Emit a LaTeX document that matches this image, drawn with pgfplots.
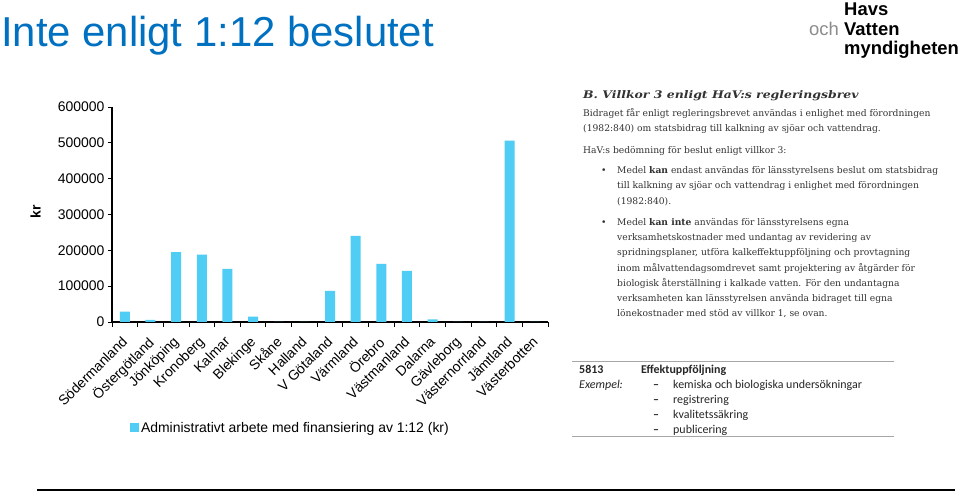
\documentclass[border=0pt]{standalone}
\usepackage{fontspec}
\setmainfont{Liberation Sans}
\newfontfamily\docserif{DejaVu Serif}
\newfontfamily\calib{Carlito}
\usepackage{pgfplots}
\pgfplotsset{compat=1.18}
\definecolor{barblue}{RGB}{80,205,245}
\definecolor{titleblue}{RGB}{0,112,192}
\definecolor{doctext}{RGB}{50,50,50}
\definecolor{logogray}{RGB}{140,140,140}
\newcommand{\dl}[3]{\node[anchor=base west,inner sep=0pt,text=doctext,font=\docserif\fontsize{9.2}{11}\selectfont] at (#1,493-#2) {#3};}
\newcommand{\tl}[3]{\node[anchor=base west,inner sep=0pt,text=black!85,font=\calib\fontsize{12}{14}\selectfont] at (#1,493-#2) {#3};}
\begin{document}
\begin{tikzpicture}[x=1bp,y=1bp]
\path[use as bounding box, fill=white] (0,0) rectangle (959,493);
% title
\node[anchor=base west, inner sep=0pt, text=titleblue, font=\fontsize{42}{50}\selectfont] at (1,446) {Inte enligt 1:12 beslutet};
% logo
\node[anchor=base west, inner sep=0pt, font=\fontsize{18.5}{20}\selectfont\bfseries] at (844,477) {Havs};
\node[anchor=base west, inner sep=0pt, font=\fontsize{18.5}{20}\selectfont\bfseries] at (844,457) {Vatten};
\node[anchor=base east, inner sep=0pt, text=logogray, font=\fontsize{18.5}{20}\selectfont] at (839,457) {och};
\node[anchor=base west, inner sep=0pt, font=\fontsize{18.5}{20}\selectfont\bfseries] at (844,438) {myndigheten};
% document excerpt
\node[anchor=base west,inner sep=0pt,text=doctext,font=\docserif\fontsize{10.5}{12}\selectfont] at (583,493-99) {\scalebox{1.19}[1]{\textbf{\textit{B. Villkor 3 enligt HaV:s regleringsbrev}}}};
\dl{583}{117}{Bidraget får enligt regleringsbrevet användas i enlighet med förordningen}
\dl{583}{132}{(1982:840) om statsbidrag till kalkning av sjöar och vattendrag.}
\dl{583}{154}{HaV:s bedömning för beslut enligt villkor 3:}
\dl{601}{174}{•}
\dl{617}{174}{Medel \textbf{kan} endast användas för länsstyrelsens beslut om statsbidrag}
\dl{617}{189}{till kalkning av sjöar och vattendrag i enlighet med förordningen}
\dl{617}{205}{(1982:840).}
\dl{601}{226}{•}
\dl{617}{226}{Medel \textbf{kan inte} användas för länsstyrelsens egna}
\dl{617}{241}{verksamhetskostnader med undantag av revidering av}
\dl{617}{256}{spridningsplaner, utföra kalkeffektuppföljning och provtagning}
\dl{617}{272}{inom målvattendagsomdrevet samt projektering av åtgärder för}
\dl{617}{287}{biologisk återställning i kalkade vatten. För den undantagna}
\dl{617}{302}{verksamheten kan länsstyrelsen använda bidraget till egna}
\dl{617}{317}{lönekostnader med stöd av villkor 1, se ovan.}
% table excerpt
\draw[black!35, line width=1bp] (572,131) -- (894,131);
\draw[black!35, line width=1bp] (572,56) -- (894,56);
\tl{579}{374}{\textbf{5813}}
\tl{641}{374}{\textbf{Effektuppföljning}}
\tl{579}{389}{\textit{Exempel:}}
\tl{653}{389}{\textbf{–}}
\tl{673}{389}{kemiska och biologiska undersökningar}
\tl{653}{404}{\textbf{–}}
\tl{673}{404}{registrering}
\tl{653}{419}{\textbf{–}}
\tl{673}{419}{kvalitetssäkring}
\tl{653}{434}{\textbf{–}}
\tl{673}{434}{publicering}
% bottom rule
\draw[black, line width=2bp] (37bp,3bp) -- (955bp,3bp);
\begin{axis}[
  at={(112bp,171bp)}, anchor=south west, scale only axis,
  width=436bp, height=215bp,
  xmin=-0.5, xmax=16.5, ymin=0, ymax=600000,
  axis lines=left, axis line style={-, line width=1.3bp, black},
  tick align=outside, major tick length=4bp, minor tick length=5bp,
  tick style={black, line width=0.8bp},
  scaled y ticks=false,
  ytick={0,100000,200000,300000,400000,500000,600000},
  yticklabels={0,100000,200000,300000,400000,500000,600000},
  yticklabel style={font=\fontsize{14}{16}\selectfont},
  xtick={0,...,16},
  major x tick style={draw=none},
  minor xtick={-0.5,0.5,...,16.5},
  xticklabels={Södermanland,Östergötland,Jönköping,Kronoberg,Kalmar,Blekinge,Skåne,Halland,V Götaland,Värmland,Örebro,Västmanland,Dalarna,Gävleborg,Västernorrland,Jämtland,Västerbotten},
  xticklabel shift=6bp,
  xticklabel style={rotate=45, anchor=north east, font=\fontsize{14}{16}\selectfont, inner sep=1pt, xshift=-4bp, yshift=1.4bp},
  /pgf/number format/assume math mode=true,
  ylabel={\bfseries kr},
  ylabel style={at={(axis description cs:-0.163,0.513)}, anchor=south, inner sep=0pt, font=\fontsize{14}{16}\selectfont},
  legend style={draw=none, fill=none, at={(0.041,-0.493)}, anchor=west, inner sep=0pt, font=\fontsize{14}{16}\selectfont},
  clip=false,
]
\addplot[ybar, fill=barblue, draw=none, bar width=10bp,
  legend image code/.code={\fill[barblue] (0bp,-4.5bp) rectangle (9bp,4.5bp);}]
  coordinates {(0,29000) (1,6000) (2,195000) (3,188000) (4,148000) (5,15000) (6,0) (7,0) (8,87000) (9,240000) (10,162000) (11,143000) (12,7500) (13,0) (14,0) (15,506000) (16,0)};
\addlegendentry{Administrativt arbete med finansiering av 1:12 (kr)}
\end{axis}
\end{tikzpicture}
\end{document}
